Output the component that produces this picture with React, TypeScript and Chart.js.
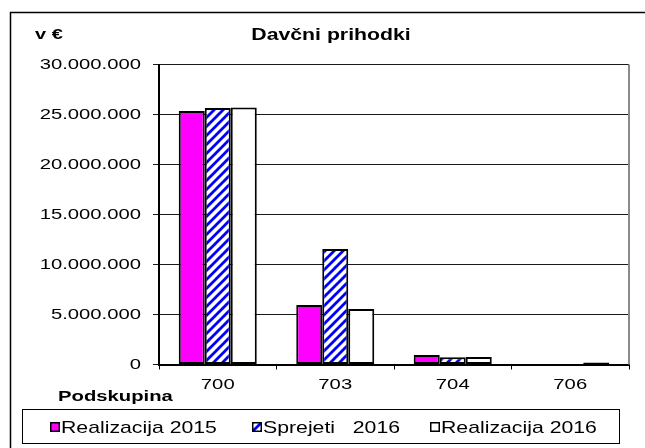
import React, { useEffect, useRef } from 'react';
import { Chart, registerables } from 'chart.js';

Chart.register(...registerables);

const categories = ['700', '703', '704', '706'];
const realizacija2015 = [25350000, 5950000, 950000, 0];
const sprejeti2016 = [25650000, 11550000, 720000, 0];
const realizacija2016 = [25700000, 5550000, 760000, 200000];
const seriesLabels = ['Realizacija 2015', 'Sprejeti   2016', 'Realizacija 2016'];
const yMin = 0;
const yMax = 30000000;
const yStep = 5000000;
const chartTitle = 'Davčni prihodki';
const unitLabel = 'v €';
const axisLabel = 'Podskupina';

const FONT = '"Liberation Sans", Arial, sans-serif';

function fmt(v: number): string {
  return Math.round(v).toString().replace(/\B(?=(\d{3})+(?!\d))/g, '.');
}

function makeHatch(): any {
  const s = 9;
  const c = document.createElement('canvas');
  c.width = s;
  c.height = s;
  const g = c.getContext('2d')!;
  g.fillStyle = '#ffffff';
  g.fillRect(0, 0, s, s);
  g.strokeStyle = '#0000ff';
  g.lineWidth = 2.8;
  g.beginPath();
  for (const off of [-s, 0, s]) {
    g.moveTo(off - 1, s + 1);
    g.lineTo(off + s + 1, -1);
  }
  g.stroke();
  return g.createPattern(c, 'repeat');
}

function drawText(ctx: any, text: string, x: number, y: number, font: string, align: string, baseline: string, sx: number) {
  ctx.save();
  ctx.translate(x, y);
  ctx.scale(sx, 1);
  ctx.font = font;
  ctx.textAlign = align;
  ctx.textBaseline = baseline;
  ctx.fillStyle = '#000';
  ctx.fillText(text, 0, 0);
  ctx.restore();
}

export default function App() {
  const ref = useRef<HTMLCanvasElement | null>(null);

  useEffect(() => {
    const canvas = ref.current;
    if (!canvas) return;
    const hatch = makeHatch();
    const fills = ['#ff00ff', hatch, '#ffffff'];

    const decor = {
      id: 'decor',
      afterDraw(chart: any) {
        const ctx = chart.ctx;
        const a = chart.chartArea;
        ctx.save();
        // plot right border
        ctx.strokeStyle = '#8a8a8a';
        ctx.lineWidth = 2;
        ctx.beginPath();
        ctx.moveTo(a.right, a.top);
        ctx.lineTo(a.right, a.bottom);
        ctx.stroke();
        // outer frame
        ctx.strokeStyle = '#000';
        ctx.lineWidth = 1.5;
        ctx.beginPath();
        ctx.moveTo(10.5, 470);
        ctx.lineTo(10.5, 12.5);
        ctx.lineTo(700, 12.5);
        ctx.stroke();

        // y tick labels from the y scale
        const ys = chart.scales.y;
        ys.ticks.forEach((t: any, i: number) => {
          drawText(ctx, fmt(t.value), 141, ys.getPixelForTick(i), `15px ${FONT}`, 'right', 'middle', 1.35);
        });
        // x tick labels from the x scale
        const xs = chart.scales.x;
        xs.ticks.forEach((t: any, i: number) => {
          drawText(ctx, String(xs.getLabelForValue(t.value)), xs.getPixelForTick(i), 385, `15px ${FONT}`, 'center', 'middle', 1.35);
        });

        drawText(ctx, unitLabel, 35, 39, `bold 15px ${FONT}`, 'left', 'alphabetic', 1.33);
        drawText(ctx, chartTitle, 331, 40, `bold 17px ${FONT}`, 'center', 'alphabetic', 1.25);
        drawText(ctx, axisLabel, 58, 401, `bold 15px ${FONT}`, 'left', 'alphabetic', 1.35);

        // legend
        ctx.strokeStyle = '#000';
        ctx.lineWidth = 1;
        ctx.strokeRect(22.5, 409.5, 597, 34);
        const lx = [50, 252, 430];
        for (let i = 0; i < seriesLabels.length; i++) {
          ctx.fillStyle = fills[i];
          ctx.fillRect(lx[i], 422, 10, 10);
          ctx.strokeStyle = '#000';
          ctx.lineWidth = 1.5;
          ctx.strokeRect(lx[i] + 0.75, 422.75, 8.5, 8.5);
          drawText(ctx, seriesLabels[i], lx[i] + 11, 433, `17px ${FONT}`, 'left', 'alphabetic', 1.25);
        }
        ctx.restore();
      },
    };

    const series = [realizacija2015, sprejeti2016, realizacija2016];
    const chart = new Chart(canvas, {
      type: 'bar',
      data: {
        labels: categories,
        datasets: series.map((d, i) => ({
          label: seriesLabels[i],
          data: d,
          backgroundColor: fills[i],
          borderColor: '#000',
          borderWidth: 2,
          borderSkipped: false,
          categoryPercentage: 0.664,
          barPercentage: 1,
        })),
      },
      options: {
        responsive: false,
        animation: false,
        devicePixelRatio: 1,
        layout: { padding: { top: 64.5, right: 16, left: 0, bottom: 0 } },
        plugins: {
          legend: { display: false },
          title: { display: false },
          tooltip: { enabled: false },
        },
        scales: {
          x: {
            grid: {
              drawOnChartArea: false,
              drawTicks: true,
              tickLength: 5,
              color: '#000',
              lineWidth: 1,
            },
            border: { color: '#000', width: 2 },
            ticks: { display: false, autoSkip: false, maxRotation: 0 },
            afterFit(scale: any) {
              scale.height = 83.5;
            },
          },
          y: {
            min: yMin,
            max: yMax,
            grid: {
              color: '#1a1a1a',
              lineWidth: 1,
              tickLength: 6,
            },
            border: { color: '#000', width: 2 },
            ticks: { display: false, stepSize: yStep },
            afterFit(scale: any) {
              scale.width = 159;
            },
          },
        },
      },
      plugins: [decor],
    });
    return () => chart.destroy();
  }, []);

  return (
    <div style={{ position: 'absolute', left: 0, top: 0, width: 645, height: 448, background: '#fff' }}>
      <canvas ref={ref} width={645} height={448} style={{ display: 'block' }} />
    </div>
  );
}
